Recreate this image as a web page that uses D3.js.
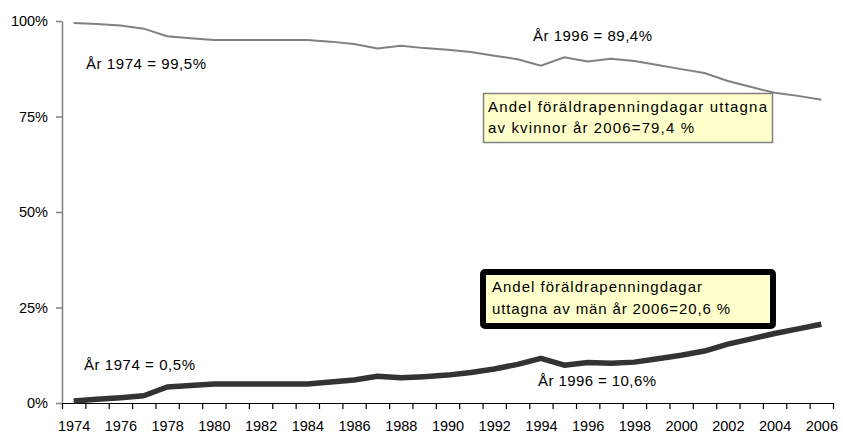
<!DOCTYPE html>
<html lang="sv">
<head>
  <meta charset="UTF-8">
  <title>Andel föräldrapenningdagar</title>
  <script src="https://d3js.org/d3.v7.min.js"></script>
  <style>
    body { margin: 0; background: #fff; font-family: "Liberation Sans", Arial, sans-serif; }
    .axis text { font-size: 14.5px; fill: #000; font-family: "Liberation Sans", Arial, sans-serif; }
    .note { font-size: 15px; fill: #000; }
  </style>
</head>
<body>
  <div id="chart"></div>

  <script>
    // Data
    const years = d3.range(1974, 2007);
    const women = [99.5, 99.2, 98.8, 98.0, 96.0, 95.5, 95.0, 95.0, 95.0, 95.0, 95.0,
                   94.6, 94.0, 92.8, 93.5, 92.9, 92.5, 91.9, 90.9, 90.0, 88.3,
                   90.5, 89.4, 90.1, 89.5, 88.5, 87.4, 86.4, 84.3, 82.7, 81.2, 80.4, 79.4];
    const men = [0.5, 1.0, 1.4, 1.9, 4.2, 4.6, 5.0, 5.0, 5.0, 5.0, 5.0,
                 5.5, 6.0, 7.0, 6.6, 6.9, 7.3, 8.0, 8.9, 10.1, 11.7,
                 9.9, 10.6, 10.4, 10.7, 11.6, 12.5, 13.6, 15.4, 16.8, 18.2, 19.4, 20.6];
    const yTicks = [0, 25, 50, 75, 100];
    const xLabels = years.filter(y => y % 2 === 0);

    const width = 843, height = 436;
    const plotLeft = 62, plotRight = 833, plotTop = 21, plotBottom = 403;

    const svg = d3.select("#chart").append("svg")
      .attr("width", width).attr("height", height);

    // categories: points at year, tick marks between years
    const x = d3.scaleLinear().domain([1973.5, 2006.5]).range([plotLeft, plotRight]);
    const y = d3.scaleLinear().domain([0, 100]).range([plotBottom, plotTop]);

    // Y axis
    const yAxis = svg.append("g")
      .attr("class", "axis")
      .attr("transform", `translate(${plotLeft},0)`)
      .call(d3.axisLeft(y).tickValues(yTicks).tickFormat(d => d + "%").tickSize(6).tickSizeOuter(0).tickPadding(8));
    yAxis.selectAll("path, line").attr("stroke", "#808080").attr("stroke-width", 1.5);

    // X axis: tick marks at category boundaries
    const xTickAxis = svg.append("g")
      .attr("class", "axis")
      .attr("transform", `translate(0,${plotBottom})`)
      .call(d3.axisBottom(x).tickValues(d3.range(1973.5, 2007, 1)).tickFormat("").tickSize(6).tickSizeOuter(0));
    xTickAxis.selectAll("path, line").attr("stroke", "#000").attr("stroke-width", 1.2);

    // X axis labels at category centres
    const xLabelAxis = svg.append("g")
      .attr("class", "axis")
      .attr("transform", `translate(0,${plotBottom})`)
      .call(d3.axisBottom(x).tickValues(xLabels).tickFormat(d3.format("d")).tickSize(0).tickPadding(18));
    xLabelAxis.select(".domain").remove();

    const line = d3.line()
      .x((d, i) => x(years[i]))
      .y(d => y(d));

    svg.append("path")
      .datum(women)
      .attr("d", line)
      .attr("fill", "none")
      .attr("stroke", "#808080")
      .attr("stroke-width", 2);

    svg.append("path")
      .datum(men)
      .attr("d", line)
      .attr("fill", "none")
      .attr("stroke", "#333333")
      .attr("stroke-width", 5.5)
      .attr("stroke-linejoin", "round");

    // Annotations (textLength matches the wider spacing of the original)
    const notes = [
      { x: 86, y: 69, w: 120, t: "År 1974 = 99,5%" },
      { x: 533, y: 41, w: 119, t: "År 1996 = 89,4%" },
      { x: 84, y: 370, w: 111, t: "År 1974 = 0,5%" },
      { x: 538, y: 386, w: 118, t: "År 1996 = 10,6%" }
    ];
    svg.selectAll(".note-t").data(notes).enter().append("text")
      .attr("class", "note")
      .attr("x", d => d.x).attr("y", d => d.y)
      .attr("textLength", d => d.w).attr("lengthAdjust", "spacing")
      .text(d => d.t);

    // Women box
    svg.append("rect")
      .attr("x", 483.5).attr("y", 93.5).attr("width", 289).attr("height", 49)
      .attr("fill", "#ffffcc").attr("stroke", "#808080").attr("stroke-width", 1.5);
    svg.append("text").attr("class", "note").attr("x", 488).attr("y", 112)
      .attr("textLength", 279).attr("lengthAdjust", "spacing")
      .text("Andel föräldrapenningdagar uttagna");
    svg.append("text").attr("class", "note").attr("x", 488).attr("y", 133)
      .attr("textLength", 206).attr("lengthAdjust", "spacing")
      .text("av kvinnor år 2006=79,4 %");

    // Men box
    svg.append("rect")
      .attr("x", 483).attr("y", 272).attr("width", 290).attr("height", 54)
      .attr("rx", 2)
      .attr("fill", "#ffffcc").attr("stroke", "#000").attr("stroke-width", 6);
    svg.append("text").attr("class", "note").attr("x", 492).attr("y", 292)
      .attr("textLength", 210).attr("lengthAdjust", "spacing")
      .text("Andel föräldrapenningdagar");
    svg.append("text").attr("class", "note").attr("x", 492).attr("y", 314)
      .attr("textLength", 238).attr("lengthAdjust", "spacing")
      .text("uttagna av män år 2006=20,6 %");
  </script>
</body>
</html>
